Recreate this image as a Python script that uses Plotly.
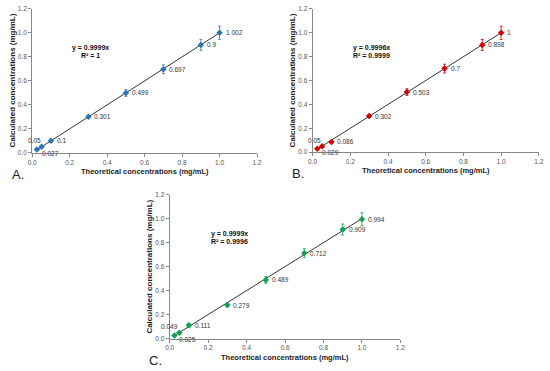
import plotly.graph_objects as go

x_theor = [0.025, 0.05, 0.1, 0.3, 0.5, 0.7, 0.9, 1.0]
y_a = [0.027, 0.05, 0.1, 0.301, 0.499, 0.697, 0.9, 1.002]
y_b = [0.029, 0.05, 0.086, 0.302, 0.503, 0.7, 0.898, 1.0]
y_c = [0.025, 0.049, 0.111, 0.279, 0.489, 0.712, 0.909, 0.994]
err_a = [0.006, 0.006, 0.008, 0.012, 0.028, 0.037, 0.046, 0.055]
err_b = [0.006, 0.006, 0.010, 0.012, 0.028, 0.037, 0.046, 0.055]
err_c = [0.006, 0.006, 0.012, 0.015, 0.028, 0.037, 0.046, 0.055]
labels_a = ["0.027", "0.05", "0.1", "0.301", "0.499", "0.697", "0.9", "1.002"]
labels_b = ["0.029", "0.05", "0.086", "0.302", "0.503", "0.7", "0.898", "1"]
labels_c = ["0.025", "0.049", "0.111", "0.279", "0.489", "0.712", "0.909", "0.994"]
slopes = [0.9999, 0.9996, 0.9999]
eq_a = ["y = 0.9999x", "R² = 1"]
eq_b = ["y = 0.9996x", "R² = 0.9999"]
eq_c = ["y = 0.9999x", "R² = 0.9996"]
panel_names = ["A.", "B.", "C."]
tick_vals = [0.0, 0.2, 0.4, 0.6, 0.8, 1.0, 1.2]
tick_text = ["0.0", "0.2", "0.4", "0.6", "0.8", "1.0", "1.2"]

W, H = 550, 371
panels = [
    dict(y=y_a, err=err_a, lab=labels_a, eq=eq_a, color="#2e75b6", px=(27.7, 256.7), py=(5, 151.7), name=panel_names[0], slope=slopes[0]),
    dict(y=y_b, err=err_b, lab=labels_b, eq=eq_b, color="#d00000", px=(313.3, 543.7), py=(5, 151), name=panel_names[1], slope=slopes[1]),
    dict(y=y_c, err=err_c, lab=labels_c, eq=eq_c, color="#10a050", px=(167.7, 402.7), py=(194.3, 341), name=panel_names[2], slope=slopes[2]),
]

fig = go.Figure()
annotations = []
font = "Arial, Liberation Sans, sans-serif"
# label placement: (xanchor, xshift, yshift)
label_place = [("left", 3, -4), ("right", 1, 6)] + [("left", 4, 0)] * 6

for i, p in enumerate(panels):
    xa = "x" if i == 0 else f"x{i+1}"
    ya = "y" if i == 0 else f"y{i+1}"
    xd = [p["px"][0] / W, p["px"][1] / W]
    yd = [1 - p["py"][1] / H, 1 - p["py"][0] / H]
    fig.add_trace(go.Scatter(
        x=[x_theor[0], x_theor[-1]], y=[p["slope"] * x_theor[0], p["slope"] * x_theor[-1]],
        mode="lines", line=dict(color="#333333", width=1), xaxis=xa, yaxis=ya, showlegend=False, hoverinfo="skip"))
    fig.add_trace(go.Scatter(
        x=x_theor, y=p["y"], mode="markers", cliponaxis=False,
        marker=dict(symbol="diamond", size=5, color=p["color"]),
        error_y=dict(type="data", array=p["err"], color=p["color"], thickness=0.8, width=1.5),
        xaxis=xa, yaxis=ya, showlegend=False))
    for xv, yv, t, (anc, xs, ys) in zip(x_theor, p["y"], p["lab"], label_place):
        annotations.append(dict(x=xv, y=yv, xref=xa, yref=ya, text=t, showarrow=False,
                                xanchor=anc, yanchor="middle", xshift=xs, yshift=ys,
                                font=dict(size=6.5, color="#333333", family=font)))
    axcommon = dict(range=[0, 1.2], tickvals=tick_vals, ticktext=tick_text, showgrid=False, zeroline=False,
                    showline=True, linecolor="#888888", linewidth=1, ticks="outside", ticklen=3,
                    tickcolor="#888888", tickfont=dict(size=6.5, color="#555555", family=font))
    fig.update_layout(**{
        ("xaxis" if i == 0 else f"xaxis{i+1}"): dict(domain=xd, anchor=ya, **axcommon),
        ("yaxis" if i == 0 else f"yaxis{i+1}"): dict(domain=yd, anchor=xa, **axcommon),
    })
    x0, x1 = p["px"]
    y0, y1 = p["py"]
    annotations.append(dict(x=0.31, y=0.872, xref=xa, yref=ya, text=f"<b>{p['eq'][0]}</b>", showarrow=False,
                            xanchor="center", yanchor="middle",
                            font=dict(size=7, color="#111111", family=font)))
    annotations.append(dict(x=0.31, y=0.812, xref=xa, yref=ya, text=f"<b>{p['eq'][1]}</b>", showarrow=False,
                            xanchor="center", yanchor="middle",
                            font=dict(size=7, color="#111111", family=font)))
    annotations.append(dict(x=(x0 + x1) / 2 / W, y=1 - (y1 + 19) / H, xref="paper", yref="paper",
                            xanchor="center", yanchor="middle",
                            text="<b>Theoretical concentrations (mg/mL)</b>", showarrow=False,
                            font=dict(size=7.5, color="#222222", family=font)))
    annotations.append(dict(x=(x0 - 20) / W, y=1 - (y0 + y1) / 2 / H, xref="paper", yref="paper",
                            xanchor="center", yanchor="middle",
                            text="<b>Calculated concentrations (mg/mL)</b>", showarrow=False, textangle=-90,
                            font=dict(size=8, color="#222222", family=font)))
    annotations.append(dict(x=(x0 - 23) / W, y=1 - (y1 + 22) / H, xref="paper", yref="paper",
                            xanchor="left", yanchor="middle",
                            text=p["name"], showarrow=False, font=dict(size=13, color="#222222", family=font)))

fig.update_layout(width=W, height=H, margin=dict(l=0, r=0, t=0, b=0), plot_bgcolor="white",
                  paper_bgcolor="white", annotations=annotations)
fig.write_html("out.html", config={"displayModeBar": False},
               post_script="document.body.style.margin='0';document.body.style.overflow='hidden';")
